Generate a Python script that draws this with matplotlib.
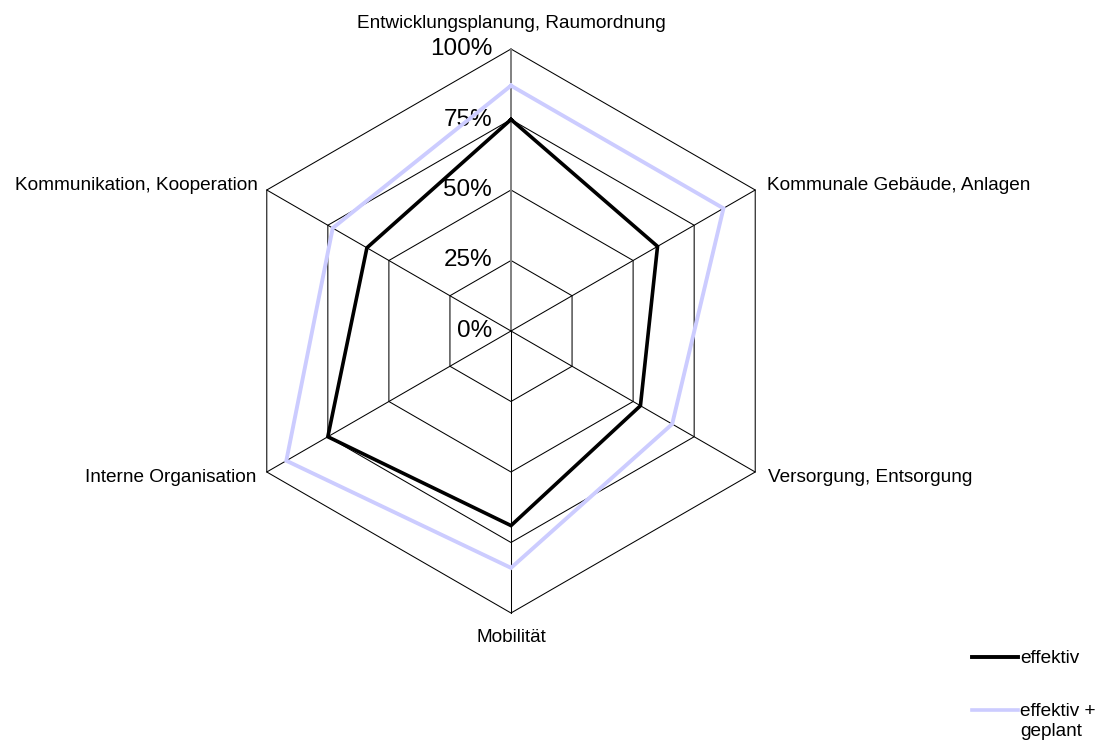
import numpy as np
import matplotlib
matplotlib.use("Agg")
import matplotlib.pyplot as plt
from matplotlib.lines import Line2D

plt.rcParams['font.family'] = ['Liberation Sans', 'DejaVu Sans']

# Kategorien (im Uhrzeigersinn ab oben)
categories = [
    "Entwicklungsplanung, Raumordnung",
    "Kommunale Gebäude, Anlagen",
    "Versorgung, Entsorgung",
    "Mobilität",
    "Interne Organisation",
    "Kommunikation, Kooperation",
]
effektiv = [75, 60, 53, 69, 75, 59]
effektiv_geplant = [87, 87, 66, 84, 92, 73]
ticks = [0, 25, 50, 75, 100]
tick_labels = ["0%", "25%", "50%", "75%", "100%"]
series_names = ["effektiv", "effektiv +\ngeplant"]


def to_xy(values):
    n = len(values)
    ang = np.deg2rad(90 - 360.0 / n * np.arange(n))
    r = np.asarray(values, dtype=float) / 100.0
    x = r * np.cos(ang)
    y = r * np.sin(ang)
    return np.append(x, x[0]), np.append(y, y[0])


W, H = 1105, 745
cx, cy, R = 511, 331, 282  # Mittelpunkt und Radius in Pixeln

fig = plt.figure(figsize=(W / 100, H / 100), dpi=100)
ax = fig.add_axes([0, 0, 1, 1])
ax.set_xlim(-cx / R, (W - cx) / R)
ax.set_ylim(-(H - cy) / R, cy / R)
ax.axis('off')

n = len(categories)

# Gitter-Sechsecke
for t in ticks[1:]:
    gx, gy = to_xy([t] * n)
    ax.plot(gx, gy, color='black', lw=0.75, zorder=1)

# Speichen
ox, oy = to_xy([100] * n)
for i in range(n):
    col = '#808080' if i == 0 else 'black'
    lw = 1.4 if i == 0 else 0.75
    ax.plot([0, ox[i]], [0, oy[i]], color=col, lw=lw, zorder=1)

# Achsenbeschriftung
for t, lab in zip(ticks, tick_labels):
    ax.annotate(lab, xy=(0, t / 100.0), xytext=(-19, 0), textcoords='offset pixels',
                ha='right', va='center', fontsize=17.5)

# Datenreihen
ex, ey = to_xy(effektiv_geplant)
ax.plot(ex, ey, color='#ccccff', lw=2.8, zorder=3, solid_joinstyle='miter')
bx, by = to_xy(effektiv)
ax.plot(bx, by, color='black', lw=2.6, zorder=4, solid_joinstyle='miter')

# Kategorienamen
offsets = [(0, 25, 'center'), (12, 5, 'left'), (13, -5, 'left'),
           (0, -24, 'center'), (-10, -5, 'right'), (-9, 5, 'right')]
for i, lab in enumerate(categories):
    dx, dy, ha = offsets[i]
    ax.annotate(lab, xy=(ox[i], oy[i]), xytext=(dx, dy), textcoords='offset pixels',
                ha=ha, va='center', fontsize=13.7)

# Legende
leg_y = [657, 710]
leg_style = [('black', 2.8), ('#ccccff', 2.6)]
for yy, (c, lw), name in zip(leg_y, leg_style, series_names):
    fy = 1 - yy / H
    fig.add_artist(Line2D([972 / W, 1018 / W], [fy, fy], color=c, lw=lw))
    fig.text(1020 / W, 1 - (yy - 7) / H, name, ha='left', va='top',
             fontsize=13.7, linespacing=1.25)

fig.savefig('out.png', dpi=100)
